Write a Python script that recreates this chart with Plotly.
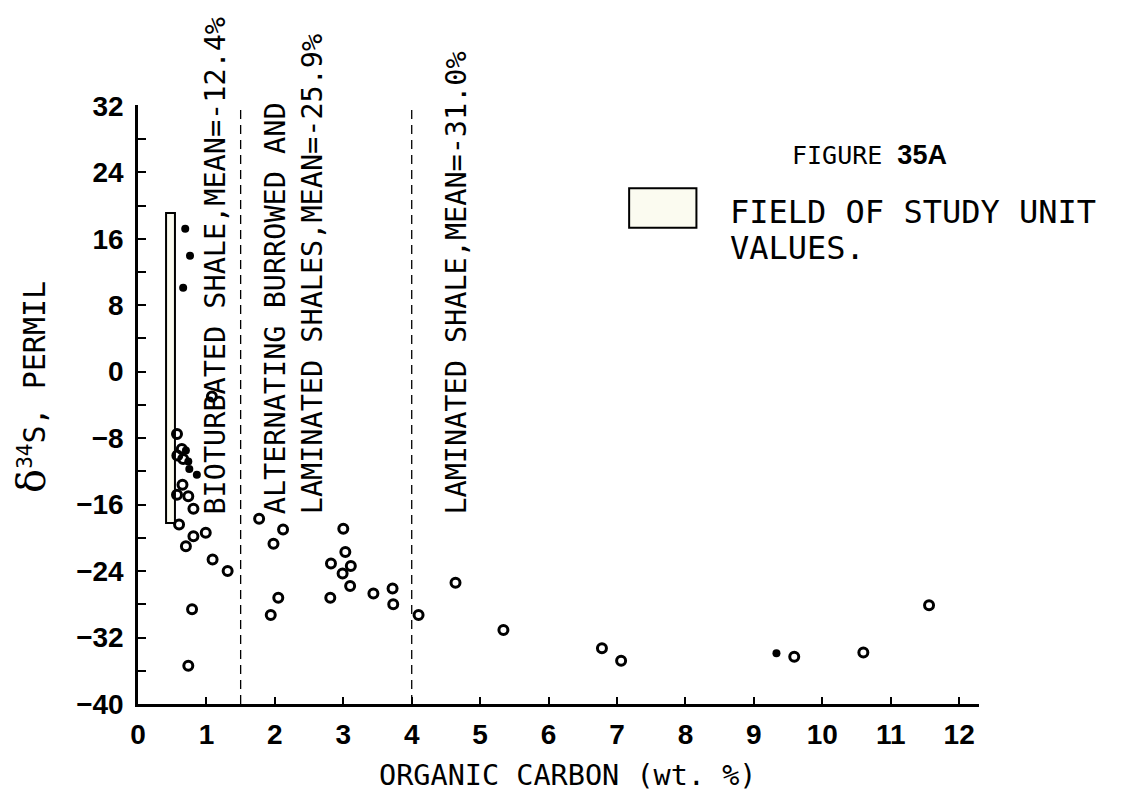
import plotly.graph_objects as go

# ---- data ----
ring_x = [1.08, 0.57, 0.64, 0.575, 0.66, 0.65, 0.57, 0.735, 0.81, 0.60, 0.70, 0.81, 0.99,
          1.09, 1.31, 0.79, 0.735,
          1.77, 2.12, 1.98, 3.00, 3.03, 2.82, 3.11, 2.99, 3.10, 2.05, 1.94, 2.81, 3.44,
          3.72, 3.73, 4.10, 4.64,
          5.34, 6.78, 7.06, 9.59, 10.60, 11.56]
ring_y = [-3.0, -7.5, -9.3, -10.1, -10.5, -13.6, -14.8, -15.0, -16.5, -18.4, -21.0, -19.8, -19.4,
          -22.6, -24.0, -28.6, -35.4,
          -17.7, -19.0, -20.7, -18.9, -21.7, -23.1, -23.4, -24.3, -25.8, -27.2, -29.3, -27.2, -26.7,
          -26.1, -28.0, -29.3, -25.4,
          -31.1, -33.3, -34.8, -34.3, -33.8, -28.1]
dot_x = [0.69, 0.76, 0.66, 0.70, 0.735, 0.75, 0.86, 9.33]
dot_y = [17.2, 13.95, 10.1, -9.5, -10.8, -11.7, -12.4, -33.9]

field_x = [0.41, 0.54]
field_y = [-18.2, 19.1]
boundaries = [1.5, 4.0]

y_tickvals = list(range(-40, 33, 8))
y_ticktext = ["\u2212" + str(-v) if v < 0 else str(v) for v in y_tickvals]
y_minor_vals = list(range(-36, 32, 8))
x_tickvals = list(range(0, 13))
x_ticktext = [str(v) for v in x_tickvals]

zone_labels = ["BIOTURBATED SHALE,MEAN=-12.4%",
               "ALTERNATING BURROWED AND<br>LAMINATED SHALES,MEAN=-25.9%",
               "LAMINATED SHALE,MEAN=-31.0%"]
zone_label_x = [1.13, 2.28, 4.66]

MONO = "DejaVu Sans Mono"
SANS = "Liberation Sans"

fig = go.Figure()

fig.add_trace(go.Scatter(x=ring_x, y=ring_y, mode="markers",
                         marker=dict(symbol="circle-open", size=9, color="black",
                                     line=dict(width=3, color="black")),
                         showlegend=False, cliponaxis=False))
fig.add_trace(go.Scatter(x=dot_x, y=dot_y, mode="markers",
                         marker=dict(symbol="circle", size=8, color="black"),
                         showlegend=False, cliponaxis=False))

# field of study unit values
fig.add_shape(type="rect", xref="x", yref="y",
              x0=field_x[0], x1=field_x[1], y0=field_y[0], y1=field_y[1],
              line=dict(color="black", width=2), fillcolor="#fbfbf0", layer="below")

for b in boundaries:
    fig.add_shape(type="line", xref="x", yref="y", x0=b, x1=b, y0=-40, y1=32.1,
                  line=dict(color="black", width=1.3, dash="9px,6px"))

for txt, xx in zip(zone_labels, zone_label_x):
    fig.add_annotation(x=xx, y=-17.4, xref="x", yref="y", text=txt, textangle=-90,
                       showarrow=False, xanchor="center", yanchor="bottom", align="left",
                       font=dict(family=MONO, size=28.5, color="black"))

# legend box
fig.add_shape(type="rect", xref="paper", yref="paper", x0=0.584, x1=0.664, y0=0.795, y1=0.861,
              line=dict(color="black", width=2), fillcolor="#fbfbf0")
fig.add_annotation(x=0.702, y=0.822, xref="paper", yref="paper", text="FIELD OF STUDY UNIT",
                   showarrow=False, xanchor="left", yanchor="middle",
                   font=dict(family=MONO, size=32, color="black"))
fig.add_annotation(x=0.702, y=0.762, xref="paper", yref="paper", text="VALUES.",
                   showarrow=False, xanchor="left", yanchor="middle",
                   font=dict(family=MONO, size=32, color="black"))

fig.add_annotation(x=0.775, y=0.917, xref="paper", yref="paper",
                   text="FIGURE <span style='font-family:Liberation Sans;font-weight:bold;font-size:27px'>35A</span>",
                   showarrow=False, xanchor="left", yanchor="middle",
                   font=dict(family=MONO, size=25, color="black"))

# axis titles
fig.add_annotation(x=-0.128, y=0.53, xref="paper", yref="paper",
                   text="<span style='font-family:DejaVu Serif;font-size:40px'>\u03b4</span><sup>34</sup>S, PERMIL",
                   textangle=-90, showarrow=False, xanchor="center", yanchor="middle",
                   font=dict(family=MONO, size=30, color="black"))
fig.add_annotation(x=0.511, y=-0.12, xref="paper", yref="paper",
                   text="ORGANIC CARBON (wt. %)", showarrow=False,
                   xanchor="center", yanchor="middle",
                   font=dict(family=MONO, size=28.5, color="black"))

fig.update_xaxes(range=[0, 12.29], tickvals=x_tickvals, ticktext=x_ticktext,
                 ticks="inside", ticklen=7, tickwidth=2, tickcolor="black",
                 showline=True, linecolor="black", linewidth=2.5,
                 showgrid=False, zeroline=False, ticklabelstandoff=4,
                 tickfont=dict(family=SANS, size=28, color="black", weight="bold"))
fig.update_yaxes(range=[-40, 32.1], tickvals=y_tickvals, ticktext=y_ticktext,
                 ticks="inside", ticklen=8, tickwidth=2, tickcolor="black",
                 minor=dict(tickvals=y_minor_vals, ticks="inside", ticklen=8,
                            tickwidth=2, tickcolor="black", showgrid=False),
                 showline=True, linecolor="black", linewidth=2.5,
                 showgrid=False, zeroline=False, ticklabelstandoff=6,
                 tickfont=dict(family=SANS, size=28, color="black", weight="bold"))

# page body adds an 8px offset, so the figure is sized to fill the rest of the window
fig.update_layout(width=1115, height=786,
                  margin=dict(l=130, r=144, t=97, b=90),
                  plot_bgcolor="white", paper_bgcolor="white", showlegend=False)

fig.write_html("out.html")
